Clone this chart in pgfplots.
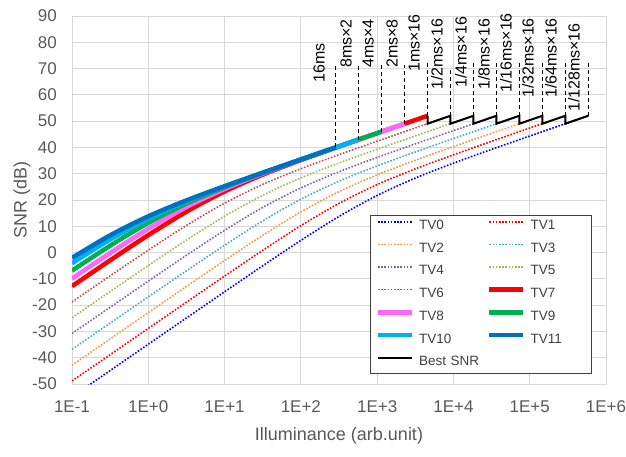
\documentclass[border=0pt]{standalone}
\usepackage{pgfplots}
\pgfplotsset{compat=1.18}
\usepackage{fontspec}
\setmainfont{Liberation Sans}
\definecolor{tv0}{HTML}{0000FF}
\definecolor{tv1}{HTML}{FF0000}
\definecolor{tv2}{HTML}{F79646}
\definecolor{tv3}{HTML}{4BACC6}
\definecolor{tv4}{HTML}{8064A2}
\definecolor{tv5}{HTML}{9BBB59}
\definecolor{tv6}{HTML}{C0504D}
\definecolor{tv7}{HTML}{FF0000}
\definecolor{tv8}{HTML}{FF66FF}
\definecolor{tv9}{HTML}{00B050}
\definecolor{tv10}{HTML}{00B0F0}
\definecolor{tv11}{HTML}{0070C0}
\definecolor{gridc}{HTML}{D9D9D9}
\definecolor{txt}{HTML}{595959}
\pgfplotsset{
  dotc/.style={color=#1, line width=1.6pt, dash pattern=on 1.6pt off 1.6pt, smooth},
  thk/.style={color=#1, line width=4.5pt, smooth},
  lead/.style={forget plot, black, line width=1pt, dash pattern=on 4pt off 3pt},
}
\begin{document}
\begin{tikzpicture}
\begin{axis}[
  name=ax,
  scale only axis, width=534pt, height=368pt,
  xmode=log, xmin=0.1, xmax=1e6, ymin=-50, ymax=90,
  xtick={0.1,1,10,100,1000,10000,100000,1000000},
  xticklabels={1E-1,1E+0,1E+1,1E+2,1E+3,1E+4,1E+5,1E+6},
  ytick={-50,-40,-30,-20,-10,0,10,20,30,40,50,60,70,80,90},
  xminorticks=false,
  grid=major, major grid style={draw=gridc, line width=0.9pt},
  axis line style={draw=gridc, line width=0.9pt},
  major tick length=0pt,
  /pgf/number format/assume math mode=true,
  tick label style={font=\fontsize{17}{20}\selectfont, text=txt},
  xticklabel style={anchor=center, inner sep=0pt, yshift=-22.5pt},
  yticklabel style={anchor=east, inner sep=0pt, xshift=-15pt},
  xlabel={Illuminance (arb.unit)}, ylabel={SNR (dB)},
  every axis x label/.style={at={(rel axis cs:0.5,-0.1413)}, anchor=center},
  every axis y label/.style={at={(rel axis cs:-0.0936,0.5)}, anchor=center, rotate=90},
  label style={font=\fontsize{18}{21}\selectfont, text=txt},
  clip mode=individual,
  legend columns=2, legend cell align=left,
  legend image code/.code={\draw[#1] (0pt,4.5pt) -- (34pt,4.5pt);},
  legend style={at={(0.974,0.027)}, anchor=south east, draw=black!75, line width=0.8pt,
    fill=white, inner sep=5pt, font=\fontsize{13.5}{16}\selectfont, text=black!75,
    row sep=9.5pt,
    nodes={inner sep=0pt, text height=10pt, text depth=3pt, text width=56pt, align=left},
    /tikz/every odd column/.append style={column sep=5pt},
    /tikz/every even column/.append style={column sep=12pt}},
]
\addplot[dotc=tv0] coordinates {(0.1,-54.88) (0.3162,-44.88) (1,-34.88) (3.162,-24.89) (10,-14.93) (31.62,-5.04) (100,4.63) (316.2,13.74) (1000,21.72) (3162,28.35) (10000,34.02) (31620,39.26) (100000,44.34) (292864,49.02) (585728,52.04)};
\addlegendentry{TV0}
\addplot[dotc=tv1] coordinates {(0.1,-48.86) (0.3162,-38.86) (1,-28.87) (3.162,-18.89) (10,-8.96) (31.62,0.83) (100,10.22) (316.2,18.71) (1000,25.86) (3162,31.84) (10000,37.20) (31620,42.32) (100000,47.36) (146432,49.02) (292864,52.04)};
\addlegendentry{TV1}
\addplot[dotc=tv2] coordinates {(0.1,-42.84) (0.3162,-32.84) (1,-22.86) (3.162,-12.90) (10,-3.04) (31.62,6.55) (100,15.47) (316.2,23.18) (1000,29.56) (3162,35.11) (10000,40.30) (31620,45.36) (73216,49.02) (146432,52.04)};
\addlegendentry{TV2}
\addplot[dotc=tv3] coordinates {(0.1,-36.82) (0.3162,-26.83) (1,-16.86) (3.162,-6.95) (10,2.79) (31.62,12.04) (100,20.28) (316.2,27.15) (1000,32.97) (3162,38.26) (10000,43.36) (36608,49.02) (73216,52.04)};
\addlegendentry{TV3}
\addplot[dotc=tv4] coordinates {(0.1,-30.81) (0.3162,-20.82) (1,-10.88) (3.162,-1.05) (10,8.45) (31.62,17.16) (100,24.58) (316.2,30.74) (1000,36.19) (3162,41.34) (10000,46.39) (18304,49.02) (36608,52.04)};
\addlegendentry{TV4}
\addplot[dotc=tv5] coordinates {(0.1,-24.79) (0.3162,-14.83) (1,-4.94) (3.162,4.73) (10,13.82) (31.62,21.79) (100,28.41) (316.2,34.07) (1000,39.31) (3162,44.38) (9152,49.02) (18304,52.04)};
\addlegendentry{TV5}
\addplot[dotc=tv6] coordinates {(0.1,-18.79) (0.3162,-8.86) (1,0.92) (3.162,10.31) (10,18.79) (31.62,25.92) (100,31.89) (316.2,37.25) (1000,42.37) (3162,47.41) (4576,49.02) (9152,52.04)};
\addlegendentry{TV6}
\addplot[thk=tv7] coordinates {(0.1,-12.80) (0.3162,-2.94) (1,6.65) (3.162,15.56) (10,23.25) (31.62,29.62) (100,35.16) (316.2,40.35) (1000,45.41) (3162,50.43) (4576,52.03)};
\addlegendentry{TV7}
\addplot[thk=tv8] coordinates {(0.1,-9.89) (0.3162,-0.16) (1,9.09) (3.162,17.33) (10,24.20) (31.62,30.01) (100,35.30) (316.2,40.39) (1000,45.43) (2288,49.02)};
\addlegendentry{TV8}
\addplot[thk=tv9] coordinates {(0.1,-6.87) (0.3162,2.61) (1,11.29) (3.162,18.66) (10,24.79) (31.62,30.22) (100,35.37) (316.2,40.42) (1000,45.43) (1144,46.01)};
\addlegendentry{TV9}
\addplot[thk=tv10] coordinates {(0.1,-4.10) (0.3162,4.96) (1,12.89) (3.162,19.46) (10,25.10) (31.62,30.33) (100,35.40) (316.2,40.43) (572,43.00)};
\addlegendentry{TV10}
\addplot[thk=tv11] coordinates {(0.1,-2.02) (0.3162,6.56) (1,13.80) (3.162,19.85) (10,25.25) (31.62,30.38) (100,35.42) (286,39.99)};
\addlegendentry{TV11}
\addplot[black, line width=2pt, line join=miter] coordinates {(4576,52.03) (4576,49.02) (9152,52.04) (9152,49.02) (18304,52.04) (18304,49.02) (36608,52.04) (36608,49.02) (73216,52.04) (73216,49.02) (146432,52.04) (146432,49.02) (292864,52.04) (292864,49.02) (585728,52.04)};
\addlegendentry{\mbox{Best SNR}}
% leader lines
\addplot[lead] coordinates {(286,39.99) (286,71.36)};
\addplot[lead] coordinates {(572,43.00) (572,71.36)};
\addplot[lead] coordinates {(1144,46.01) (1144,71.36)};
\addplot[lead] coordinates {(2288,49.02) (2288,71.36)};
\addplot[lead] coordinates {(4576,52.03) (4576,73.26)};
\addplot[lead] coordinates {(9152,52.04) (9152,70.6)};
\addplot[lead] coordinates {(18304,52.04) (18304,73.26)};
\addplot[lead] coordinates {(36608,52.04) (36608,73.26)};
\addplot[lead] coordinates {(73216,52.04) (73216,73.26)};
\addplot[lead] coordinates {(146432,52.04) (146432,73.26)};
\addplot[lead] coordinates {(292864,52.04) (292864,73.26)};
\addplot[lead] coordinates {(585728,52.04) (585728,73.26)};
% labels
\tikzset{lab/.style={rotate=90, anchor=south west, inner sep=0pt, font=\fontsize{16}{19}\selectfont, text=black}}
\node[lab] at (axis cs:207,64.52) {16ms};
\node[lab] at (axis cs:468,70.22) {8ms×2};
\node[lab] at (axis cs:908,70.22) {4ms×4};
\node[lab] at (axis cs:1875,70.22) {2ms×8};
\node[lab] at (axis cs:3640,68.7) {1ms×16};
\node[lab] at (axis cs:7280,61.85) {1/2ms×16};
\node[lab] at (axis cs:15030,62.61) {1/4ms×16};
\node[lab] at (axis cs:30070,61.85) {1/8ms×16};
\node[lab] at (axis cs:58480,60.71) {1/16ms×16};
\node[lab] at (axis cs:113500,58.81) {1/32ms×16};
\node[lab] at (axis cs:227000,58.81) {1/64ms×16};
\node[lab] at (axis cs:455000,53.48) {1/128ms×16};
\end{axis}
\pgfresetboundingbox
\path[use as bounding box] ([shift={(-72pt,-72pt)}]ax.south west) rectangle ++(626pt,456pt);
\end{tikzpicture}
\end{document}
